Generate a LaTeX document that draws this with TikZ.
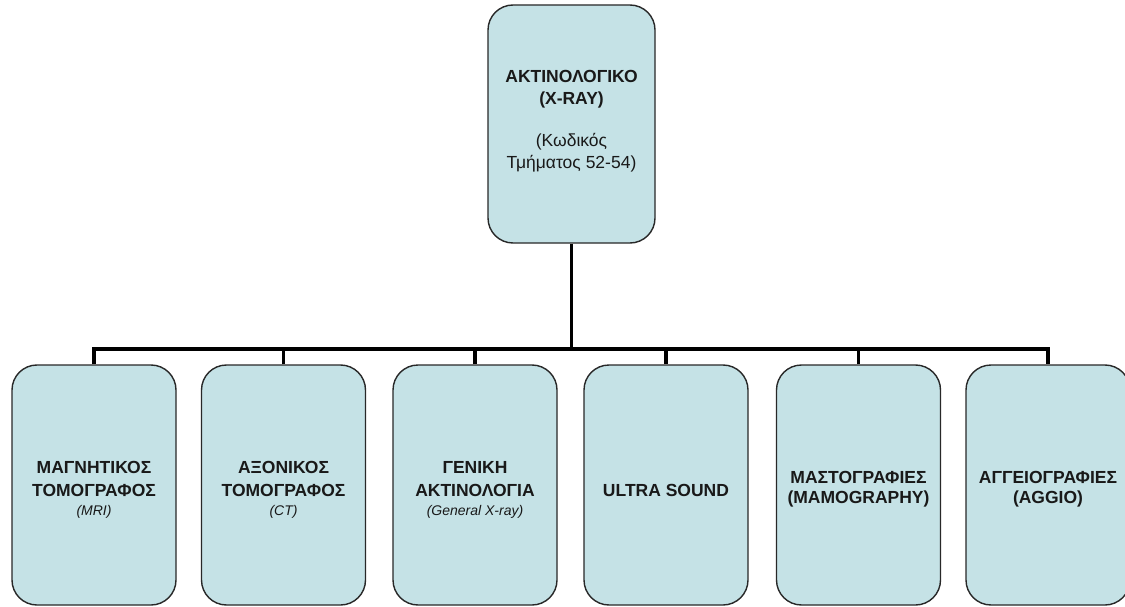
\documentclass[tikz,border=0pt]{standalone}
\usepackage{fontspec}
\setmainfont{Liberation Sans}
\definecolor{boxfill}{RGB}{197,226,230}
\definecolor{boxline}{RGB}{40,40,40}
\definecolor{txt}{RGB}{25,25,25}
\newcommand{\subline}[1]{{\fontsize{14}{18}\selectfont\mdseries\itshape #1}}
\begin{document}
\begin{tikzpicture}[x=1pt,y=-1pt,
  unitbox/.style={draw=boxline,line width=1.4pt,fill=boxfill,rounded corners=25pt,
    minimum width=164pt,minimum height=240pt,inner sep=0pt},
  boxtext/.style={align=center,inner sep=0pt,text=txt,
    font=\fontsize{17.5}{22.5}\selectfont\bfseries},
  wire/.style={line width=3.4pt,black}]
\useasboundingbox (0,0) rectangle (1125,607);
\clip (0,0) rectangle (1125,607);
% head of the department
\node[unitbox,minimum width=167pt,minimum height=238pt] (top) at (571.5,124) {};
\node[boxtext] (top-t) at ([yshift=3pt]top.center)
  {ΑΚΤΙΝΟΛΟΓΙΚΟ\\(X-RAY)\\[19pt]
   \mdseries (Κωδικός\\\mdseries Τμήματος 52-54)};
% sections
\node[unitbox] (mri) at (94,485) {};
\node[unitbox] (ct) at (283.5,485) {};
\node[unitbox] (gen) at (475,485) {};
\node[unitbox] (us) at (666,485) {};
\node[unitbox] (mam) at (858.5,485) {};
\node[unitbox] (ang) at (1048,485) {};
\node[boxtext] (mri-t) at ([yshift=-5pt]mri.center) {ΜΑΓΝΗΤΙΚΟΣ\\ΤΟΜΟΓΡΑΦΟΣ\\[-3pt]\subline{(MRI)}};
\node[boxtext] (ct-t) at ([yshift=-5pt]ct.center) {ΑΞΟΝΙΚΟΣ\\ΤΟΜΟΓΡΑΦΟΣ\\[-3pt]\subline{(CT)}};
\node[boxtext] (gen-t) at ([yshift=-5pt]gen.center) {ΓΕΝΙΚΗ\\ΑΚΤΙΝΟΛΟΓΙΑ\\[-3pt]\subline{(General X-ray)}};
\node[boxtext] (us-t) at ([yshift=-5pt]us.center) {ULTRA SOUND};
\node[boxtext] (mam-t) at ([yshift=-4pt]mam.center) {ΜΑΣΤΟΓΡΑΦΙΕΣ\\[-3pt](MAMOGRAPHY)};
\node[boxtext] (ang-t) at ([yshift=-4pt]ang.center) {ΑΓΓΕΙΟΓΡΑΦΙΕΣ\\[-3pt](AGGIO)};
% connectors
\coordinate (bus) at (571.5,349);
\draw[wire] (top.south) -- (bus);
\draw[wire] (mri.north) |- (bus) -| (ang.north);
\foreach \n in {ct,gen,us,mam}
  \draw[wire] (\n.north) -- (\n.north |- bus);
\end{tikzpicture}
\end{document}
